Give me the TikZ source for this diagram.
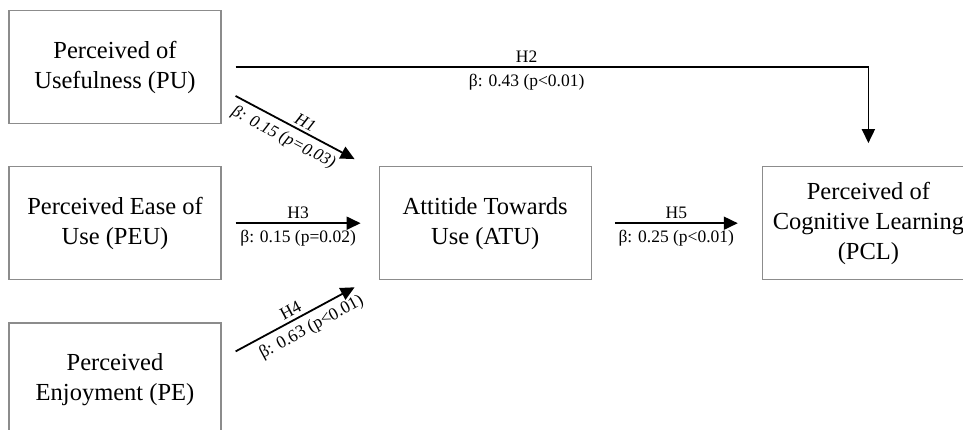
\documentclass[tikz,border=0pt]{standalone}
\usepackage{fontspec}
\setmainfont{Liberation Serif}
\usetikzlibrary{arrows.meta}
\usetikzlibrary{positioning}

\tikzset{
  construct/.style={rectangle,draw=black!45,line width=1.2pt,minimum width=212pt,minimum height=113pt,align=center,font=\fontsize{24.5}{30}\selectfont},
  hyp/.style={draw=black,line width=1.8pt,-{Triangle[length=14pt,width=13pt]}},
  hlab/.style={font=\fontsize{17.5}{20}\selectfont,inner sep=2pt},
  hlabit/.style={font=\fontsize{17}{20}\selectfont\itshape,inner sep=2pt}
}

\begin{document}
\begin{tikzpicture}
\useasboundingbox (0,0) rectangle (963pt,-430pt);
\clip (0,0) rectangle (963pt,-430pt);
\node[construct] (pu) at (115pt,-67pt) {Perceived of\\Usefulness (PU)};
\node[construct,below=42pt of pu] (peu) {Perceived Ease of\\Use (PEU)};
\node[construct,below=42pt of peu] (pe) {Perceived\\Enjoyment (PE)};
\node[construct,right=157pt of peu] (atu) {Attitide Towards\\Use (ATU)};
\node[construct,right=170pt of atu] (pcl) {Perceived of\\Cognitive Learning\\(PCL)};

% free ends of the arrows
\coordinate[right=14pt of pu.east] (h2a);
\coordinate[above=23pt of pcl.north] (h2b);
\coordinate (h1a) at ([shift={(14pt,-29pt)}]pu.east);
\coordinate (h1b) at ([shift={(-24pt,7pt)}]atu.north west);
\coordinate[right=14pt of peu.east] (h3a);
\coordinate[left=18pt of atu.west] (h3b);
\coordinate (h4a) at ([shift={(14pt,28pt)}]pe.east);
\coordinate (h4b) at ([shift={(-24pt,-7pt)}]atu.south west);
\coordinate[right=23pt of atu.east] (h5a);
\coordinate[left=24pt of pcl.west] (h5b);

\draw[hyp] (h2a) -| (h2b) node[hlab,pos=0.23,above=2pt]{H2} node[hlab,pos=0.23,below=4pt]{β: 0.43 (p<0.01)};
\draw[hyp] (h1a) -- (h1b) node[hlabit,sloped,pos=0.55,above=1pt]{H1} node[hlabit,sloped,pos=0.46,below=4pt]{β: 0.15 (p=0.03)};
\draw[hyp] (h3a) -- (h3b) node[hlab,midway,above=2pt]{H3} node[hlab,midway,below=4pt]{β: 0.15 (p=0.02)};
\draw[hyp] (h4a) -- (h4b) node[hlab,sloped,pos=0.5,above=1pt]{H4} node[hlab,sloped,pos=0.58,below=4pt]{β: 0.63 (p<0.01)};
\draw[hyp] (h5a) -- (h5b) node[hlab,midway,above=2pt]{H5} node[hlab,midway,below=4pt]{β: 0.25 (p<0.01)};
\end{tikzpicture}
\end{document}
